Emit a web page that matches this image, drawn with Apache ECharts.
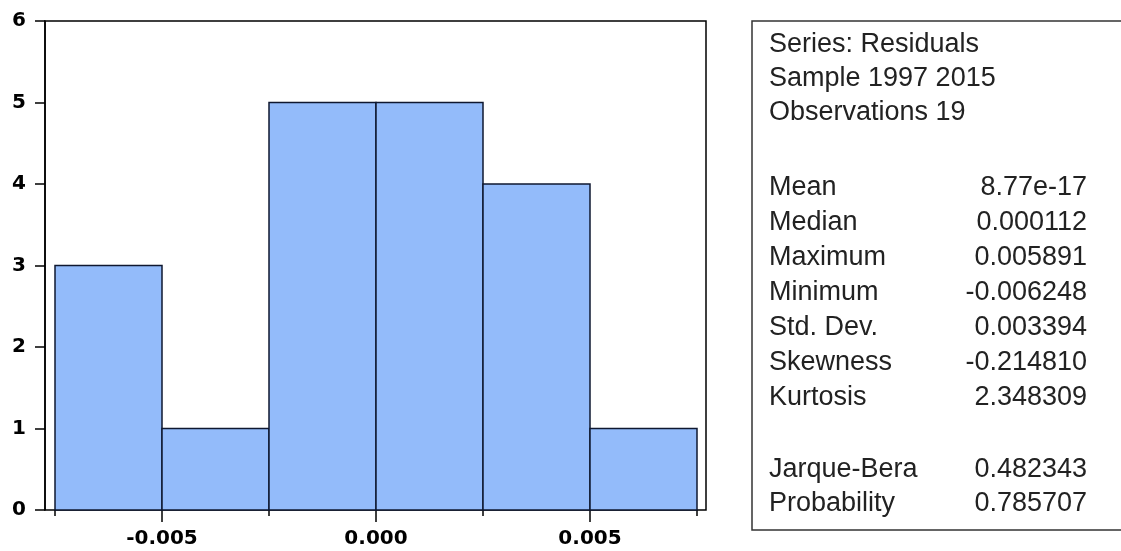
<!DOCTYPE html>
<html>
<head>
<meta charset="utf-8">
<script src="https://cdn.jsdelivr.net/npm/echarts@6/dist/echarts.min.js"></script>
<style>
  html, body { margin: 0; padding: 0; background: #fff; }
  #chart { width: 1121px; height: 551px; }
</style>
</head>
<body>
<div id="chart"></div>
<script>
// histogram bins of the residuals
const binEdges = [-0.0075, -0.005, -0.0025, 0, 0.0025, 0.005, 0.0075]
const counts = [3, 1, 5, 5, 4, 1]
const xLabelValues = [-0.005, 0, 0.005]
const xMinorValues = [-0.0075, -0.0025, 0.0025, 0.0075]

// descriptive statistics panel
const headerLines = ['Series: Residuals', 'Sample 1997 2015', 'Observations 19']
const statLabels = ['Mean', 'Median', 'Maximum', 'Minimum', 'Std. Dev.', 'Skewness', 'Kurtosis']
const statValues = ['8.77e-17', '0.000112', '0.005891', '-0.006248', '0.003394', '-0.214810', '2.348309']
const testLabels = ['Jarque-Bera', 'Probability']
const testValues = ['0.482343', '0.785707']

const chart = echarts.init(document.getElementById('chart'))

const bins = counts.map((c, i) => [binEdges[i], binEdges[i + 1], c])

const boxFont = '27px "Liberation Sans", Arial, sans-serif'
const textColor = '#222'

const panel = [
  {
    type: 'rect',
    shape: { x: 752, y: 21, width: 420, height: 509 },
    style: { fill: '#fff', stroke: '#333', lineWidth: 1.5 }
  }
]
const addText = (text, x, y, align = 'left') => {
  panel.push({
    type: 'text',
    style: { text, x, y, font: boxFont, fill: textColor, align, verticalAlign: 'middle' }
  })
}
headerLines.forEach((t, i) => addText(t, 769, 45 + i * 34))
statLabels.forEach((t, i) => {
  addText(t, 769, 188 + i * 35)
  addText(statValues[i], 1087, 188 + i * 35, 'right')
})
testLabels.forEach((t, i) => {
  addText(t, 769, 470 + i * 34)
  addText(testValues[i], 1087, 470 + i * 34, 'right')
})

const axisFont = { fontFamily: '"DejaVu Sans", sans-serif', fontWeight: 'bold', color: '#000' }

chart.setOption({
  animation: false,
  backgroundColor: '#fff',
  grid: [
    { left: 45, top: 21, width: 661, height: 489, show: true, borderColor: '#000', borderWidth: 1.5 },
    { left: 55, top: 21, width: 642, height: 489 },
    { left: 55, top: 21, width: 642, height: 489 }
  ],
  xAxis: [
    { gridIndex: 0, type: 'value', min: 0, max: 1, show: false },
    {
      gridIndex: 1,
      type: 'value',
      min: -0.0075,
      max: 0.0075,
      axisLine: { show: false },
      splitLine: { show: false },
      axisTick: { customValues: xLabelValues, length: 12, lineStyle: { color: '#000', width: 1.5 } },
      axisLabel: {
        customValues: xLabelValues,
        margin: 19,
        fontSize: 20,
        ...axisFont,
        formatter: (v) => v.toFixed(3)
      }
    },
    {
      gridIndex: 2,
      type: 'value',
      min: -0.0075,
      max: 0.0075,
      axisLine: { show: false },
      splitLine: { show: false },
      axisTick: { customValues: xMinorValues, length: 6, lineStyle: { color: '#000', width: 1.5 } },
      axisLabel: { show: false }
    }
  ],
  yAxis: [
    {
      gridIndex: 0,
      type: 'value',
      min: 0,
      max: 6,
      interval: 1,
      axisLine: { show: true, lineStyle: { color: '#000', width: 1.5 } },
      axisTick: { show: true, length: 10, lineStyle: { color: '#000', width: 1.5 } },
      splitLine: { show: false },
      axisLabel: { margin: 19, fontSize: 20, padding: [0, 0, 8, 0], ...axisFont }
    },
    { gridIndex: 1, type: 'value', min: 0, max: 6, show: false },
    { gridIndex: 2, type: 'value', min: 0, max: 6, show: false }
  ],
  series: [
    {
      type: 'custom',
      xAxisIndex: 1,
      yAxisIndex: 1,
      data: bins,
      renderItem: (params, api) => {
        const p0 = api.coord([api.value(0), 0])
        const p1 = api.coord([api.value(1), api.value(2)])
        return {
          type: 'rect',
          shape: { x: p0[0], y: p1[1], width: p1[0] - p0[0], height: p0[1] - p1[1] },
          style: { fill: '#93bbfa', stroke: '#0f1830', lineWidth: 1.5 }
        }
      }
    }
  ],
  graphic: panel
})
</script>
</body>
</html>
